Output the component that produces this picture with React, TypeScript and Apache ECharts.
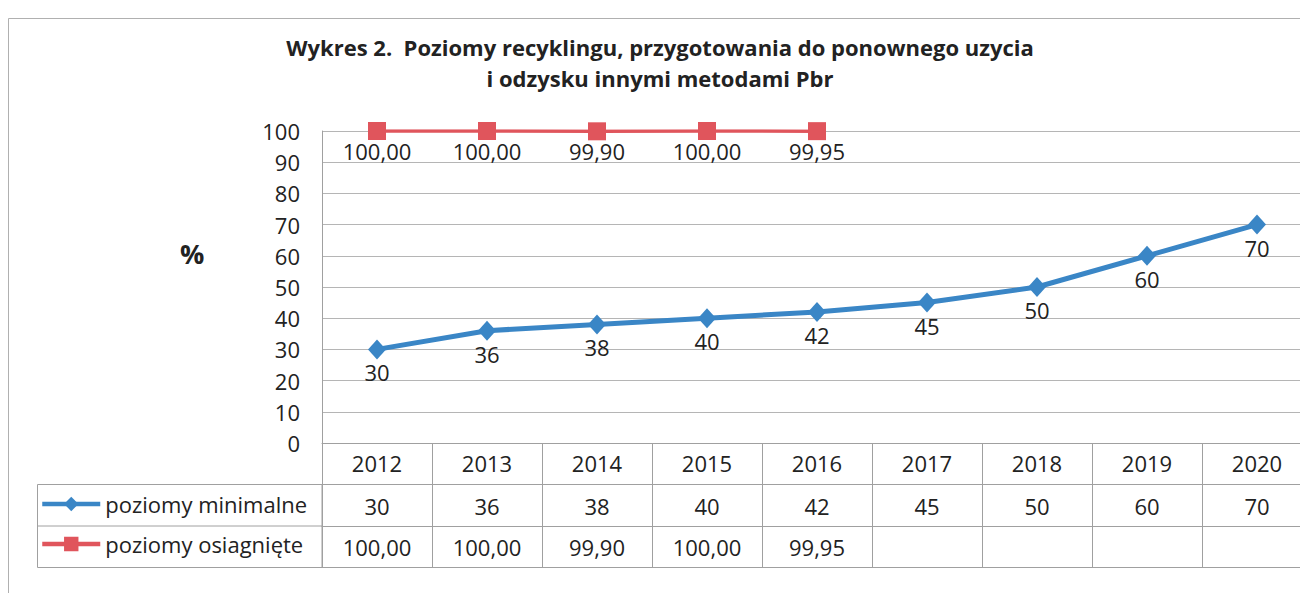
import React, { useEffect, useRef } from "react";
import * as echarts from "echarts";

const categories = ["2012", "2013", "2014", "2015", "2016", "2017", "2018", "2019", "2020"];
const minLevels = [30, 36, 38, 40, 42, 45, 50, 60, 70];
const achievedLevels: (number | null)[] = [100, 100, 99.9, 100, 99.95, null, null, null, null];
const seriesNames = ["poziomy minimalne", "poziomy osiagnięte"];
const titleText = "Wykres 2.  Poziomy recyklingu, przygotowania do ponownego uzycia\ni odzysku innymi metodami Pbr";

const FONT = "Open Sans";
const TXT = "#222";
const LINE = "#a0a0a0";
const BLUE = "#3a86c6";
const RED = "#e0555c";

const fmt = (v: number | null | undefined) =>
  v == null ? "" : v.toFixed(2).replace(".", ",");

export default function App() {
  const ref = useRef<HTMLDivElement>(null);
  useEffect(() => {
    if (!ref.current) return;
    const chart = echarts.init(ref.current, null, { renderer: "svg" });
    const gridLeft = 322;
    const gridTop = 131;
    const rowH = 41.5;
    const tableAxis = (offset: number, formatter: any, showLabel = true) => ({
      type: "category",
      data: categories,
      position: "bottom",
      offset,
      boundaryGap: true,
      axisLine: { show: true, onZero: false, lineStyle: { color: LINE, width: 1 } },
      axisTick: { show: false },
      splitLine: { show: false },
      axisLabel: {
        show: showLabel,
        interval: 0,
        margin: 10,
        fontSize: 22,
        color: TXT,
        fontFamily: FONT,
        formatter,
      },
    });
    chart.setOption({
      animation: false,
      backgroundColor: "#fff",
      title: {
        text: titleText,
        left: 660,
        top: 31,
        padding: 0,
        textAlign: "center",
        textStyle: {
          fontFamily: FONT,
          fontWeight: "bold",
          fontSize: 22,
          lineHeight: 31,
          color: TXT,
        },
      },
      legend: {
        orient: "vertical",
        left: 40,
        top: 493,
        padding: 0,
        itemWidth: 58,
        itemHeight: 18,
        itemGap: 18,
        data: seriesNames,
        lineStyle: { width: 4.5 },
        textStyle: { fontSize: 22, color: TXT, fontFamily: FONT },
      },
      grid: { left: gridLeft, top: gridTop, width: 990, height: 312, containLabel: false },
      xAxis: [
        {
          type: "category",
          data: categories,
          position: "bottom",
          boundaryGap: true,
          axisLine: { show: true, onZero: false, lineStyle: { color: LINE, width: 1 } },
          axisTick: {
            show: true,
            interval: 0,
            alignWithLabel: false,
            inside: false,
            length: rowH * 3,
            lineStyle: { color: LINE, width: 1 },
          },
          splitLine: { show: false },
          axisLabel: { interval: 0, margin: 9, fontSize: 22, color: TXT, fontFamily: FONT },
        },
        tableAxis(rowH, (_v: string, i: number) => String(minLevels[i])),
        tableAxis(rowH * 2, (_v: string, i: number) => fmt(achievedLevels[i])),
        tableAxis(rowH * 3, () => "", false),
      ],
      yAxis: {
        type: "value",
        min: 0,
        max: 100,
        interval: 10,
        axisLine: { show: true, lineStyle: { color: LINE, width: 1 } },
        axisTick: { show: false },
        splitLine: { show: true, lineStyle: { color: "#b5b5b5", width: 1 } },
        axisLabel: { margin: 22, fontSize: 22, color: TXT, fontFamily: FONT },
      },
      graphic: [
        {
          type: "rect",
          shape: { x: 8.5, y: 18.5, width: 1400, height: 700 },
          style: { fill: "none", stroke: "#b0b0b0", lineWidth: 1 },
          silent: true,
          z: -10,
        },
        {
          type: "rect",
          shape: { x: 37.5, y: 443 + rowH, width: gridLeft - 37.5, height: rowH * 2 },
          style: { fill: "none", stroke: LINE, lineWidth: 1 },
          silent: true,
        },
        {
          type: "line",
          shape: { x1: 37.5, y1: 443 + rowH * 2, x2: gridLeft, y2: 443 + rowH * 2 },
          style: { stroke: LINE, lineWidth: 1 },
          silent: true,
        },
        {
          type: "text",
          left: 180,
          top: 240,
          style: { text: "%", fontSize: 27, fontWeight: "bold", fontFamily: FONT, fill: TXT },
        },
      ],
      series: [
        {
          name: seriesNames[0],
          type: "line",
          xAxisIndex: 0,
          data: minLevels,
          symbol: "diamond",
          symbolSize: [18, 20],
          lineStyle: { color: BLUE, width: 5 },
          itemStyle: { color: BLUE },
          label: {
            show: true,
            position: "bottom",
            distance: 2,
            fontSize: 22,
            color: TXT,
            fontFamily: FONT,
          },
          z: 3,
        },
        {
          name: seriesNames[1],
          type: "line",
          xAxisIndex: 0,
          data: achievedLevels,
          symbol: "rect",
          symbolSize: 18,
          lineStyle: { color: RED, width: 3.5 },
          itemStyle: { color: RED },
          label: {
            show: true,
            position: "bottom",
            distance: 0,
            fontSize: 22,
            color: TXT,
            fontFamily: FONT,
            formatter: (p: any) => fmt(p.value),
          },
          z: 4,
        },
      ],
    });
    return () => chart.dispose();
  }, []);
  return (
    <div
      style={{
        position: "fixed",
        left: 0,
        top: 0,
        width: 1300,
        height: 593,
        overflow: "hidden",
        background: "#fff",
      }}
    >
      <div ref={ref} style={{ width: 1330, height: 593 }} />
    </div>
  );
}
